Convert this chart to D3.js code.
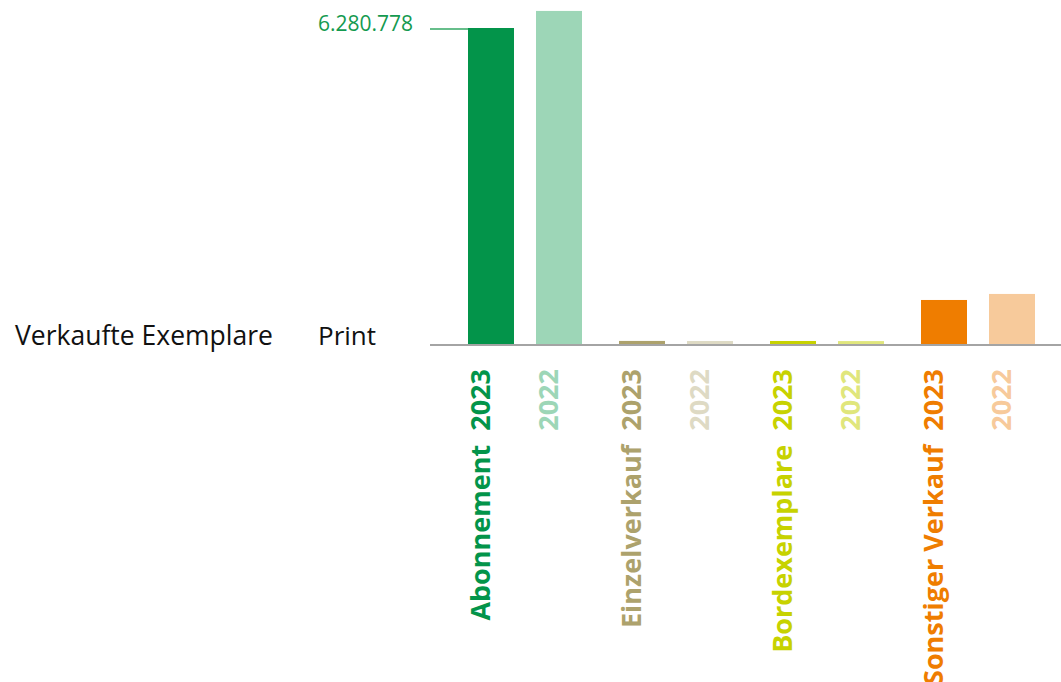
<!DOCTYPE html>
<html>
<head>
<meta charset="utf-8">
<script src="https://cdn.jsdelivr.net/npm/d3@7"></script>
<style>
  html, body { margin: 0; padding: 0; background: #fff; }
  svg { display: block; font-family: "Open Sans", sans-serif; }
</style>
</head>
<body>
<svg id="chart" width="1061" height="682"></svg>
<script>
// Sold print copies per sales channel, 2023 vs 2022
const categories = ["Abonnement", "Einzelverkauf", "Bordexemplare", "Sonstiger Verkauf"];
const years = ["2023", "2022"];
const values2023 = [6280778, 61000, 60000, 875000];
const values2022 = [6620000, 59000, 58000, 995000];
const colors2023 = ["#03944a", "#ada26c", "#c7d200", "#ef7d00"];
const colors2022 = ["#9dd6b7", "#dedac4", "#e0e67c", "#f7ca9b"];
const referenceValue = 6280778;
const referenceLabel = "6.280.778";
const rowLabel = "Verkaufte Exemplare";
const subLabel = "Print";

const svg = d3.select("#chart");

const baseY = 344;
const y = d3.scaleLinear().domain([0, referenceValue]).range([baseY, 28]);

const x0 = d3.scaleBand().domain(categories).range([449.5, 1053.5]);
const x1 = d3.scaleBand().domain(years).range([18.5, 132.5]).paddingInner(22 / 68);

const rows = [];
categories.forEach((c, i) => {
  rows.push({ cat: c, year: "2023", value: values2023[i], color: colors2023[i] });
  rows.push({ cat: c, year: "2022", value: values2022[i], color: colors2022[i] });
});

// bars
svg.append("g").selectAll("rect")
  .data(rows)
  .join("rect")
  .attr("x", d => x0(d.cat) + x1(d.year))
  .attr("y", d => y(d.value))
  .attr("width", x1.bandwidth())
  .attr("height", d => baseY - y(d.value))
  .attr("fill", d => d.color);

// baseline
svg.append("line")
  .attr("x1", 430).attr("x2", 1061)
  .attr("y1", baseY + 1).attr("y2", baseY + 1)
  .attr("stroke", "#a4a4a4")
  .attr("stroke-width", 2);

// reference value marker for the 2023 subscription bar
const refX = x0(categories[0]) + x1("2023");
svg.append("line")
  .attr("x1", 430).attr("x2", refX)
  .attr("y1", y(referenceValue) + 1).attr("y2", y(referenceValue) + 1)
  .attr("stroke", "#35a865")
  .attr("stroke-width", 1.4);
svg.append("text")
  .attr("x", 413)
  .attr("y", 31)
  .attr("text-anchor", "end")
  .attr("font-size", 21)
  .attr("fill", "#149a50")
  .text(referenceLabel);

// rotated bar labels
svg.append("g").selectAll("text")
  .data(rows)
  .join("text")
  .attr("transform", d => {
    const cx = x0(d.cat) + x1(d.year) + x1.bandwidth() / 2 - 1.5;
    return `translate(${cx},369) rotate(-90)`;
  })
  .attr("text-anchor", "end")
  .attr("font-size", 27)
  .attr("font-weight", 700)
  .attr("fill", d => d.color)
  .text(d => d.year === "2023" ? d.cat + "\u00A0\u00A0" + d.year : d.year);

// row labels
svg.append("text")
  .attr("x", 15).attr("y", 345)
  .attr("font-size", 26.5)
  .attr("fill", "#111")
  .text(rowLabel);
svg.append("text")
  .attr("x", 318).attr("y", 345)
  .attr("font-size", 26)
  .attr("fill", "#111")
  .text(subLabel);
</script>
</body>
</html>
